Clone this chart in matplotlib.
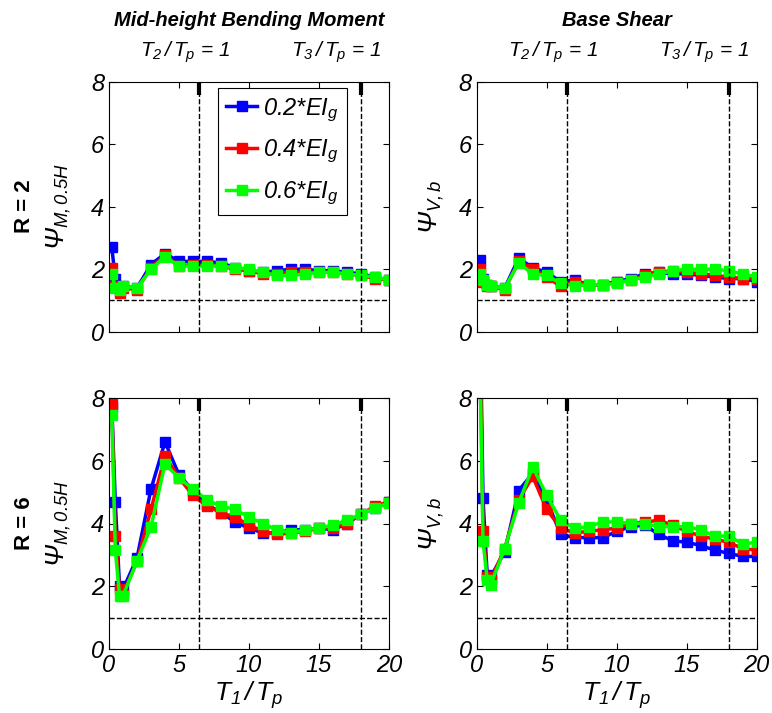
import matplotlib.pyplot as plt
from matplotlib.transforms import blended_transform_factory

plt.rcParams['font.family'] = ['Liberation Sans', 'DejaVu Sans']
plt.rcParams['mathtext.fontset'] = 'custom'
plt.rcParams['mathtext.rm'] = 'Liberation Sans:italic'
plt.rcParams['mathtext.it'] = 'Liberation Sans:italic'
plt.rcParams['mathtext.bf'] = 'Liberation Sans:bold:italic'

# period ratio T1/Tp
t_ratio = [0.2, 0.45, 0.75, 1.0] + list(range(2, 21))
stiffness = ['0.2*EI$_g$', '0.4*EI$_g$', '0.6*EI$_g$']
colors = ['#0000ff', '#ff0000', '#00ff00']
t2_line = 6.45
t3_line = 18.0

# R = 2, mid-height moment
mom_r2_02 = [2.7, 1.7, 1.35, 1.45, 1.4, 2.15, 2.5, 2.25, 2.25, 2.25, 2.2, 2.05, 1.95, 1.9,
             1.95, 2.0, 2.0, 1.95, 1.95, 1.9, 1.85, 1.75, 1.65]
mom_r2_04 = [2.05, 1.45, 1.25, 1.4, 1.35, 2.05, 2.45, 2.1, 2.15, 2.15, 2.1, 2.0, 1.95, 1.85,
             1.85, 1.9, 1.9, 1.9, 1.9, 1.85, 1.8, 1.7, 1.65]
mom_r2_06 = [1.85, 1.4, 1.35, 1.45, 1.4, 2.0, 2.4, 2.1, 2.1, 2.1, 2.1, 2.05, 2.0, 1.9,
             1.8, 1.8, 1.85, 1.9, 1.9, 1.85, 1.8, 1.75, 1.65]

# R = 2, base shear
shr_r2_02 = [2.3, 1.7, 1.5, 1.45, 1.4, 2.35, 2.05, 1.9, 1.6, 1.65, 1.5, 1.5, 1.6, 1.7,
             1.85, 1.9, 1.85, 1.85, 1.8, 1.75, 1.7, 1.7, 1.6]
shr_r2_04 = [2.0, 1.6, 1.45, 1.45, 1.35, 2.25, 2.0, 1.75, 1.45, 1.6, 1.5, 1.5, 1.6, 1.65,
             1.8, 1.9, 1.95, 1.9, 1.85, 1.8, 1.75, 1.7, 1.7]
shr_r2_06 = [1.85, 1.65, 1.5, 1.45, 1.4, 2.2, 1.85, 1.8, 1.55, 1.47, 1.5, 1.5, 1.55, 1.65,
             1.75, 1.85, 1.95, 2.0, 2.0, 2.0, 1.95, 1.85, 1.75]

# R = 6, mid-height moment
mom_r6_02 = [7.7, 4.7, 2.0, 1.9, 2.9, 5.1, 6.6, 5.55, 5.05, 4.6, 4.35, 4.05, 3.85, 3.7,
             3.7, 3.8, 3.8, 3.85, 3.8, 4.0, 4.3, 4.5, 4.7]
mom_r6_04 = [7.8, 3.6, 1.9, 1.75, 2.8, 4.45, 6.15, 5.45, 4.9, 4.55, 4.35, 4.2, 3.95, 3.75,
             3.65, 3.7, 3.75, 3.85, 3.85, 4.0, 4.3, 4.55, 4.7]
mom_r6_06 = [7.45, 3.15, 1.7, 1.7, 2.8, 3.9, 5.9, 5.45, 5.1, 4.75, 4.55, 4.45, 4.2, 4.0,
             3.8, 3.7, 3.8, 3.85, 3.95, 4.1, 4.3, 4.5, 4.65]

# R = 6, base shear
shr_r6_02 = [12.0, 4.8, 2.35, 2.3, 3.1, 5.05, 5.6, 4.75, 3.65, 3.55, 3.55, 3.55, 3.75, 3.9,
             3.95, 3.65, 3.45, 3.4, 3.3, 3.15, 3.05, 2.95, 2.95]
shr_r6_04 = [11.0, 3.75, 2.3, 2.2, 3.2, 4.75, 5.5, 4.45, 3.85, 3.7, 3.75, 3.8, 3.85, 4.0,
             4.05, 4.1, 3.95, 3.75, 3.6, 3.5, 3.4, 3.2, 3.15]
shr_r6_06 = [10.0, 3.45, 2.2, 2.05, 3.2, 4.65, 5.8, 4.9, 4.1, 3.85, 3.9, 4.05, 4.05, 4.0,
             4.0, 3.9, 3.9, 3.9, 3.8, 3.6, 3.6, 3.35, 3.4]

fig = plt.figure(figsize=(7.72, 7.13), dpi=100)
W, H = 772.0, 713.0
aw = 280 / W
ax_tl = fig.add_axes([109 / W, (H - 331.7) / H, aw, 250 / H])
ax_tr = fig.add_axes([476.7 / W, (H - 331.7) / H, aw, 250 / H])
ax_bl = fig.add_axes([109 / W, (H - 649) / H, aw, 251 / H])
ax_br = fig.add_axes([476.7 / W, (H - 649) / H, aw, 251 / H])


def panel(ax, series, ylabel, ylab_x, bottom):
    for ys, c, lab in zip(series, colors, stiffness):
        ax.plot(t_ratio, ys, '-s', color=c, lw=2.5, ms=6.5, mfc=c, mec=c, label=lab, zorder=2)
    ax.axhline(1, color='k', ls='--', lw=1, zorder=3)
    trans = blended_transform_factory(ax.transData, ax.transAxes)
    for xv in (t2_line, t3_line):
        ax.axvline(xv, color='k', ls='--', lw=1, zorder=3)
        ax.plot([xv, xv], [1, 0.948], transform=trans, color='k', lw=3,
                solid_capstyle='butt', zorder=4, clip_on=False)
    if not bottom:
        ax.text(t2_line - 1.0, 1.065, r'$T_2\,/\,T_p$ = 1', transform=trans, ha='center',
                va='bottom', fontsize=15, style='italic')
        ax.text(t3_line - 1.75, 1.065, r'$T_3\,/\,T_p$ = 1', transform=trans, ha='center',
                va='bottom', fontsize=15, style='italic')
    ax.set_xlim(0, 20)
    ax.set_ylim(0, 8)
    ax.set_xticks([0, 5, 10, 15, 20])
    ax.set_yticks([0, 2, 4, 6, 8])
    ax.tick_params(direction='in', top=True, right=True, length=4, width=0.8,
                   labelsize=17, labelbottom=bottom)
    for lbl in ax.get_xticklabels() + ax.get_yticklabels():
        lbl.set_fontstyle('italic')
    ax.set_ylabel(ylabel, fontsize=19)
    ax.yaxis.set_label_coords(ylab_x, 0.5)
    if bottom:
        ax.set_xlabel(r'$T_1\,/\,T_p$', fontsize=19, labelpad=2)
    for sp in ax.spines.values():
        sp.set_linewidth(0.8)


panel(ax_tl, [mom_r2_02, mom_r2_04, mom_r2_06], r'$\Psi_{M,0.5H}$', -0.13, False)
panel(ax_tr, [shr_r2_02, shr_r2_04, shr_r2_06], r'$\Psi_{V,b}$', -0.11, False)
panel(ax_bl, [mom_r6_02, mom_r6_04, mom_r6_06], r'$\Psi_{M,0.5H}$', -0.13, True)
panel(ax_br, [shr_r6_02, shr_r6_04, shr_r6_06], r'$\Psi_{V,b}$', -0.11, True)

leg = ax_tl.legend(loc='upper left', bbox_to_anchor=(0.389, 0.975), fancybox=False,
                   edgecolor='k', framealpha=1, prop={'style': 'italic', 'size': 17},
                   handlelength=1.3, handletextpad=0.25, labelspacing=0.6,
                   borderpad=0.35, borderaxespad=0)
leg.get_frame().set_linewidth(0.8)

fig.text(249 / W, 1 - 20 / H, 'Mid-height Bending Moment', ha='center', va='center',
         fontsize=14.5, weight='bold', style='italic')
fig.text(617 / W, 1 - 20 / H, 'Base Shear', ha='center', va='center',
         fontsize=14.5, weight='bold', style='italic')
fig.text(24 / W, 1 - 206 / H, 'R = 2', rotation=90, ha='center', va='center',
         fontsize=16, weight='bold')
fig.text(24 / W, 1 - 523 / H, 'R = 6', rotation=90, ha='center', va='center',
         fontsize=16, weight='bold')

fig.savefig('out.png', dpi=100)
